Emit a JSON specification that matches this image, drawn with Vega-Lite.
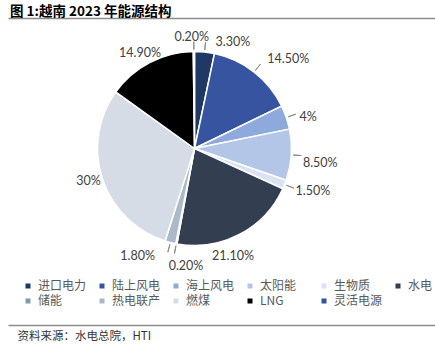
{
  "$schema": "https://vega.github.io/schema/vega-lite/v6.json",
  "autosize": {"type": "fit", "contains": "padding"},
  "width": 435,
  "height": 355,
  "padding": {"left": 8, "right": 0, "top": 4, "bottom": 13},
  "background": "white",
  "title": {
    "text": "图 1:越南 2023 年能源结构",
    "anchor": "start",
    "font": "Noto Sans CJK SC",
    "fontSize": 13.5,
    "fontWeight": "bold",
    "color": "#000000",
    "dx": 2,
    "offset": 0
  },
  "config": {"view": {"stroke": null}},
  "data": {
    "values": [
      {"k": 1, "name": "进口电力", "value": 3.3, "label": "3.30%"},
      {"k": 2, "name": "陆上风电", "value": 14.5, "label": "14.50%"},
      {"k": 3, "name": "海上风电", "value": 4, "label": "4%"},
      {"k": 4, "name": "太阳能", "value": 8.5, "label": "8.50%"},
      {"k": 5, "name": "生物质", "value": 1.5, "label": "1.50%"},
      {"k": 6, "name": "水电", "value": 21.1, "label": "21.10%"},
      {"k": 7, "name": "储能", "value": 0.2, "label": "0.20%"},
      {"k": 8, "name": "热电联产", "value": 1.8, "label": "1.80%"},
      {"k": 9, "name": "燃煤", "value": 30, "label": "30%"},
      {"k": 10, "name": "LNG", "value": 14.9, "label": "14.90%"},
      {"k": 11, "name": "灵活电源", "value": 0.2, "label": "0.20%"}
    ]
  },
  "layer": [
    {
      "layer": [
        {
          "mark": {"type": "arc", "outerRadius": 97, "stroke": "white", "strokeWidth": 1.5, "xOffset": -27, "yOffset": -23},
          "encoding": {
            "theta": {"field": "value", "type": "quantitative", "stack": true},
            "order": {"field": "k", "type": "quantitative"},
            "color": {
              "field": "name",
              "type": "nominal",
              "scale": {
                "domain": ["进口电力", "陆上风电", "海上风电", "太阳能", "生物质", "水电", "储能", "热电联产", "燃煤", "LNG", "灵活电源"],
                "range": ["#1F3864", "#3654A0", "#8EA9DB", "#B4C6E7", "#DAE3F3", "#333F50", "#8497B0", "#ACB9CA", "#D6DCE5", "#000000", "#2F5597"]
              },
              "legend": {
                "title": null,
                "orient": "none",
                "legendX": 14,
                "legendY": 262,
                "direction": "horizontal",
                "columns": 6,
                "gridAlign": "all",
                "symbolType": "square",
                "symbolSize": 25,
                "symbolStrokeWidth": 0,
                "labelFont": "Noto Sans CJK SC",
                "labelFontSize": 12,
                "labelColor": "#595959",
                "labelOffset": 4,
                "labelLimit": 60,
                "columnPadding": 9,
                "rowPadding": 3
              }
            }
          }
        },
        {
          "mark": {"type": "arc", "innerRadius": 99, "outerRadius": 107, "padAngle": 1.4, "fillOpacity": 0, "stroke": "#8C8C8C", "strokeWidth": 1, "xOffset": -27, "yOffset": -23},
          "encoding": {
            "theta": {"field": "value", "type": "quantitative", "stack": true},
            "order": {"field": "k", "type": "quantitative"},
            "detail": {"field": "name", "type": "nominal"},
            "strokeOpacity": {"condition": {"test": "datum.k === 6 || datum.k === 9 || datum.k === 10", "value": 0}, "value": 1}
          }
        },
        {
          "mark": {
            "type": "text",
            "radius": 120,
            "xOffset": -27,
            "yOffset": -23,
            "font": "Lato",
            "fontSize": 12.5,
            "fill": "#404040",
            "dx": {"expr": "datum.k === 1 ? 26 : datum.k === 2 ? 20 : datum.k === 3 ? 0 : datum.k === 4 ? 6 : datum.k === 5 ? 7 : datum.k === 6 ? -17 : datum.k === 7 ? 14 : datum.k === 8 ? -27 : datum.k === 9 ? 8 : datum.k === 10 ? 1 : -2"},
            "dy": {"expr": "datum.k === 1 ? 13 : datum.k === 2 ? 5 : datum.k === 3 ? 7 : datum.k === 4 ? 7 : datum.k === 5 ? -2 : datum.k === 6 ? 1 : datum.k === 7 ? 0 : datum.k === 8 ? -9 : datum.k === 9 ? -5 : datum.k === 10 ? 11 : 8"}
          },
          "encoding": {
            "theta": {"field": "value", "type": "quantitative", "stack": true},
            "order": {"field": "k", "type": "quantitative"},
            "detail": {"field": "name", "type": "nominal"},
            "text": {"field": "label", "type": "nominal"}
          }
        }
      ]
    },
    {
      "mark": {"type": "rule", "opacity": 0},
      "encoding": {
        "x": {
          "datum": 0,
          "type": "quantitative",
          "axis": {"orient": "top", "domainColor": "#8C8C8C", "domainWidth": 1.5, "ticks": false, "labels": false, "grid": false, "title": null}
        }
      }
    },
    {
      "mark": {"type": "rule", "opacity": 0},
      "encoding": {
        "x": {
          "datum": 0,
          "type": "quantitative",
          "axis": {
            "orient": "bottom",
            "domainColor": "#8C8C8C",
            "domainWidth": 1.5,
            "ticks": false,
            "labels": false,
            "grid": false,
            "title": "资料来源：水电总院，HTI",
            "titleFont": "Noto Sans CJK SC",
            "titleFontSize": 11.5,
            "titleFontWeight": "normal",
            "titleColor": "#333333",
            "titleAlign": "left",
            "titleX": 9,
            "titlePadding": 5
          }
        }
      }
    }
  ],
  "resolve": {"scale": {"x": "independent"}, "axis": {"x": "independent"}}
}
